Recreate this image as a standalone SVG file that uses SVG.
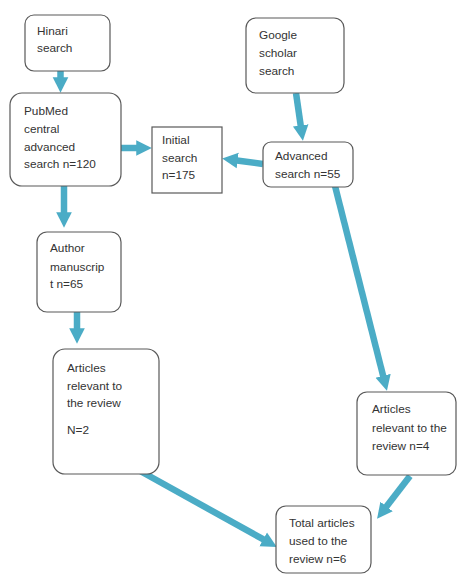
<svg xmlns="http://www.w3.org/2000/svg" width="457" height="574" viewBox="0 0 457 574">
<style>
.box{fill:#fff;stroke:#595959;stroke-width:1.2}
.t{font-family:"Liberation Sans",Arial,sans-serif;font-size:11.8px;fill:#333}
.c{stroke:#4BACC6;stroke-width:6.5;fill:none;marker-end:url(#ah)}
</style>
<defs>
<marker id="ah" viewBox="0 0 10 10" refX="0.5" refY="5" markerWidth="2.4" markerHeight="2.9" orient="auto" markerUnits="strokeWidth">
<path d="M0,0 L10,5 L0,10 z" fill="#4BACC6"/>
</marker>
</defs>
<g id="connectors">
<line class="c" x1="60.5" y1="70" x2="60.5" y2="78"/>
<line class="c" x1="121" y1="148" x2="137" y2="148"/>
<line class="c" x1="263" y1="164" x2="236.9" y2="160.5"/>
<line class="c" x1="296" y1="93" x2="300.8" y2="126.2"/>
<line class="c" x1="64" y1="186" x2="64" y2="213"/>
<line class="c" x1="77" y1="312" x2="77" y2="329"/>
<line class="c" x1="335" y1="186" x2="383.3" y2="376.5"/>
<line class="c" x1="133" y1="467" x2="263.9" y2="539.7"/>
<line class="c" x1="410" y1="476" x2="386.1" y2="507.1"/>
</g>
<g id="hinari"><rect class="box" x="25" y="15" width="85" height="56" rx="9"/>
<text class="t" x="37" y="35">Hinari</text><text class="t" x="37" y="52">search</text></g>
<g id="pubmed"><rect class="box" x="10" y="93" width="111" height="93" rx="12"/>
<text class="t" x="24" y="115">PubMed</text><text class="t" x="24" y="133">central</text><text class="t" x="24" y="151">advanced</text><text class="t" x="24" y="168">search n=120</text></g>
<g id="initial"><rect class="box" x="152" y="127" width="70" height="66"/>
<text class="t" x="162" y="144">Initial</text><text class="t" x="162" y="162">search</text><text class="t" x="162" y="179">n=175</text></g>
<g id="google"><rect class="box" x="246" y="18" width="98" height="75" rx="10"/>
<text class="t" x="259" y="39">Google</text><text class="t" x="259" y="57">scholar</text><text class="t" x="259" y="75">search</text></g>
<g id="advanced"><rect class="box" x="263" y="142" width="90" height="45" rx="8"/>
<text class="t" x="275" y="160">Advanced</text><text class="t" x="275" y="178">search n=55</text></g>
<g id="author"><rect class="box" x="37" y="232" width="84" height="80" rx="10"/>
<text class="t" x="50" y="252">Author</text><text class="t" x="50" y="271">manuscrip</text><text class="t" x="50" y="288">t n=65</text></g>
<g id="articles-left"><rect class="box" x="53" y="349" width="106" height="125" rx="12"/>
<text class="t" x="67" y="372">Articles</text><text class="t" x="67" y="390">relevant to</text><text class="t" x="67" y="407">the review</text><text class="t" x="67" y="434">N=2</text></g>
<g id="articles-right"><rect class="box" x="357" y="392" width="99" height="83" rx="10"/>
<text class="t" x="372" y="413">Articles</text><text class="t" x="372" y="432">relevant to the</text><text class="t" x="372" y="450">review n=4</text></g>
<g id="total"><rect class="box" x="276" y="506" width="95" height="67" rx="10"/>
<text class="t" x="289" y="527">Total articles</text><text class="t" x="289" y="545">used to the</text><text class="t" x="289" y="563">review n=6</text></g>
</svg>
